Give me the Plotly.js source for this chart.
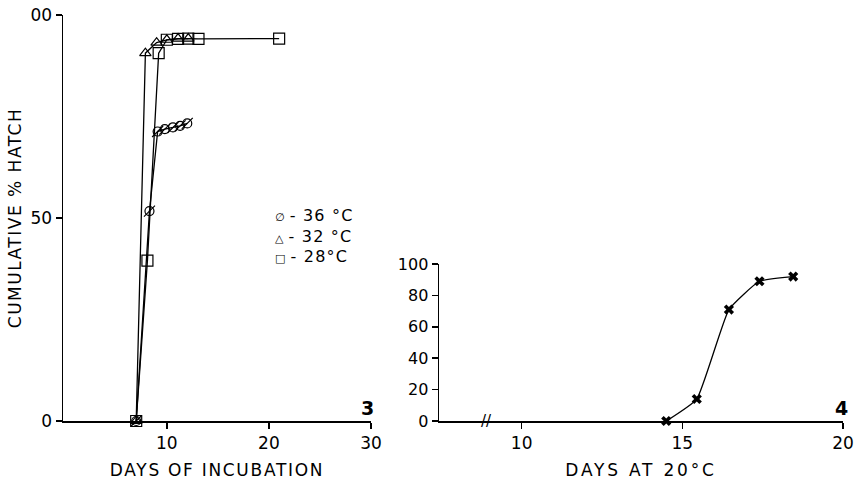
<!DOCTYPE html>
<html><head><meta charset="utf-8">
<script src="https://cdn.plot.ly/plotly-3.0.1.min.js"></script>
<style>html,body{margin:0;padding:0;background:#fff}</style>
</head><body><div id="chart" style="width:859px;height:490px"></div>
<script>
// Figure 3: cumulative % hatch vs days of incubation
const days36 = [7, 8.3, 9.1, 9.8, 10.6, 11.3, 12.0];
const hatch36 = [0, 51.7, 71.3, 71.9, 72.3, 72.7, 73.3];
const days32 = [7, 7.9, 9.0, 10.0, 11.1, 12.1];
const hatch32 = [0, 90.6, 93.2, 93.9, 94.2, 94.2];
const days28 = [7, 8.1, 9.2, 10.0, 11.1, 12.1, 13.1, 21.0];
const hatch28 = [0, 39.5, 90.6, 93.9, 94.1, 94.2, 94.1, 94.2];
const legendLabels = ["36 °C", "32 °C", "28°C"];
const legendGlyphs = ["∅", "△", "□"];
const xTicks3 = [10, 20, 30];
const yTicks3 = [0, 50, 100];
const yTickText3 = ["0", "50", "00"];
// Figure 4: cumulative % hatch vs days at 20 °C
const days20 = [14.5, 15.45, 16.45, 17.4, 18.45];
const hatch20 = [0, 14, 71, 89, 92];
const xTicks4 = [10, 15, 20];
const yTicks4 = [0, 20, 40, 60, 80, 100];

const FONT = "DejaVu Sans";
const black = "#000";
const spaced = (t, s) => "<span style='letter-spacing:" + s + "px'>" + t + "</span>";

const lineStyle = {color: black, width: 1.3};
const traces = [
  {x: days36, y: hatch36, xaxis: 'x', yaxis: 'y', mode: 'lines+markers', cliponaxis: false,
   line: lineStyle, marker: {symbol: 'circle-open', size: 9, color: black, line: {width: 1.2}}},
  {x: days36, y: hatch36, xaxis: 'x', yaxis: 'y', mode: 'markers', cliponaxis: false,
   marker: {symbol: 'line-ne-open', size: 11, color: black, line: {width: 1.2}}},
  {x: days32, y: hatch32, xaxis: 'x', yaxis: 'y', mode: 'lines+markers', cliponaxis: false,
   line: lineStyle, marker: {symbol: 'triangle-up-open', size: 10, color: black, line: {width: 1.2}}},
  {x: days28, y: hatch28, xaxis: 'x', yaxis: 'y', mode: 'lines+markers', cliponaxis: false,
   line: lineStyle, marker: {symbol: 'square-open', size: 11, color: black, line: {width: 1.2}}},
  {x: days20, y: hatch20, xaxis: 'x2', yaxis: 'y2', mode: 'lines+markers', cliponaxis: false,
   line: {color: black, width: 1.3, shape: 'spline', smoothing: 0.4},
   marker: {symbol: 'x', size: 9, color: black, line: {width: 0}}}
];

const axisBase = {
  showline: true, linecolor: black, linewidth: 1.5, showgrid: false, zeroline: false,
  ticks: 'outside', ticklen: 6, tickwidth: 1.5, tickcolor: black,
  tickfont: {family: FONT, size: 17, color: black}, automargin: false, fixedrange: true
};

const legendRowsY = [0.5057, 0.4539, 0.4064];
const annotations = legendLabels.map((lab, i) => ({
  xref: 'paper', yref: 'paper', x: 0.2692, y: legendRowsY[i], xanchor: 'left', yanchor: 'middle',
  showarrow: false,
  text: "<span style='font-size:11px'>" + legendGlyphs[i] + "</span> " + spaced("- " + lab, 1.2),
  font: {family: FONT, size: 16, color: black}
}));
annotations.push(
  {xref: 'x', yref: 'y', x: 29.7, y: 3.2, xanchor: 'center', yanchor: 'middle', showarrow: false,
   text: '3', font: {family: FONT, size: 19, color: black, weight: 'bold'}},
  {xref: 'x2', yref: 'y2', x: 19.95, y: 8.3, xanchor: 'center', yanchor: 'middle', showarrow: false,
   text: '4', font: {family: FONT, size: 19, color: black, weight: 'bold'}},
  {xref: 'x2', yref: 'y2', x: 8.9, y: 0, xanchor: 'center', yanchor: 'middle', showarrow: false,
   text: '//', font: {family: FONT, size: 15, color: black}}
);

const titleFont = {family: FONT, size: 17, color: black};
const layout = {
  width: 859, height: 490,
  margin: {l: 63, r: 16, t: 15, b: 69},
  paper_bgcolor: '#fff', plot_bgcolor: '#fff',
  showlegend: false,
  font: {family: FONT, color: black},
  xaxis: Object.assign({}, axisBase, {
    domain: [0, 0.3949], range: [-0.17, 30], anchor: 'y',
    tickmode: 'array', tickvals: xTicks3,
    title: {text: spaced('DAYS OF INCUBATION', 1.7), font: titleFont, standoff: 12}
  }),
  yaxis: Object.assign({}, axisBase, {
    domain: [0, 1], range: [0, 100], anchor: 'x',
    tickmode: 'array', tickvals: yTicks3, ticktext: yTickText3,
    title: {text: spaced('CUMULATIVE % HATCH', 1.5), font: titleFont, standoff: 4}
  }),
  xaxis2: Object.assign({}, axisBase, {
    domain: [0.4821, 1], range: [7.43, 20], anchor: 'y2',
    tickmode: 'array', tickvals: xTicks4,
    title: {text: spaced('DAYS AT 20°C', 2.8), font: titleFont, standoff: 12}
  }),
  yaxis2: Object.assign({}, axisBase, {
    domain: [0, 0.3867], range: [0, 100], anchor: 'x2',
    tickmode: 'array', tickvals: yTicks4,
    tickfont: {family: FONT, size: 16, color: black}
  }),
  annotations: annotations
};

Plotly.newPlot('chart', traces, layout, {displayModeBar: false, staticPlot: true});
</script>
</body></html>
